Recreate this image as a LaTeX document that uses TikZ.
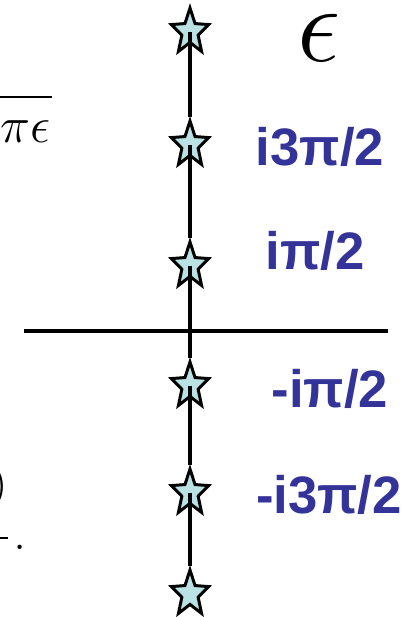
\documentclass[tikz,border=0pt]{standalone}
\usepackage{fontspec}
\setsansfont{Liberation Sans}
\usepackage{xcolor}
\usepackage{tikz}
\usetikzlibrary{shapes.geometric}
\definecolor{rootblue}{RGB}{51,51,153}
\definecolor{starfill}{RGB}{186,226,229}
\tikzset{
  axisline/.style={line width=0.9pt},
  starnode/.style={draw, star, star points=5, star point ratio=2.3, minimum size=4.8mm, inner sep=0pt, line width=0.85pt, fill=starfill, transform shape, xscale=0.82},
  rootlbl/.style={font=\sffamily\bfseries\fontsize{15}{18}\selectfont, text=rootblue, inner sep=0pt},
  fragtxt/.style={inner sep=0pt, font=\fontsize{15}{18}\selectfont}
}

\begin{document}
\begin{tikzpicture}
  \useasboundingbox (0,0) rectangle (4.18,6.17);
  \clip (0,0) rectangle (4.18,6.17);
  \coordinate (reL) at (0.24,2.86);
  \coordinate (reR) at (3.88,2.86);
  \draw[axisline] (reL) -- (reR);

  \node[starnode] (s1) at (1.90,5.85) {};
  \node[starnode] (s2) at (1.90,4.72) {};
  \node[starnode] (s3) at (1.90,3.51) {};
  \node[starnode] (s4) at (1.90,2.31) {};
  \node[starnode] (s5) at (1.90,1.24) {};
  \node[starnode] (s6) at (1.90,0.23) {};
  \draw[axisline] (s6.north) -- (s5.center);
  \draw[axisline] (s5.north) -- (s4.center);
  \draw[axisline] (s4.north) -- (s3.center);
  \draw[axisline] (s3.north) -- (s2.center);
  \draw[axisline] (s2.north) -- (s1.center);

  \node[inner sep=0pt, font=\fontsize{24.88}{25}\selectfont, scale=1.25] (epslbl) at (3.19,5.79) {$\epsilon$};
  \node[rootlbl] (l2) at (3.20,4.70) {i3π/2};
  \node[rootlbl] (l3) at (3.15,3.66) {iπ/2};
  \node[rootlbl] (l4) at (3.30,2.28) {-iπ/2};
  \node[rootlbl] (l5) at (3.29,1.22) {-i3π/2};

  \node[fragtxt, anchor=base east] (pieps) at (0.51,4.75) {$\pi\epsilon$};
  \draw[line width=0.6pt] (-0.1,5.20) -- (0.52,5.20);
  \node[fragtxt, anchor=east, font=\fontsize{12}{14}\selectfont] (rparen) at (0.08,1.30) {$)$};
  \draw[line width=0.6pt] (-0.1,0.79) -- (0.08,0.79);
  \node[fragtxt] (fullstop) at (0.20,0.70) {.};
\end{tikzpicture}
\end{document}
